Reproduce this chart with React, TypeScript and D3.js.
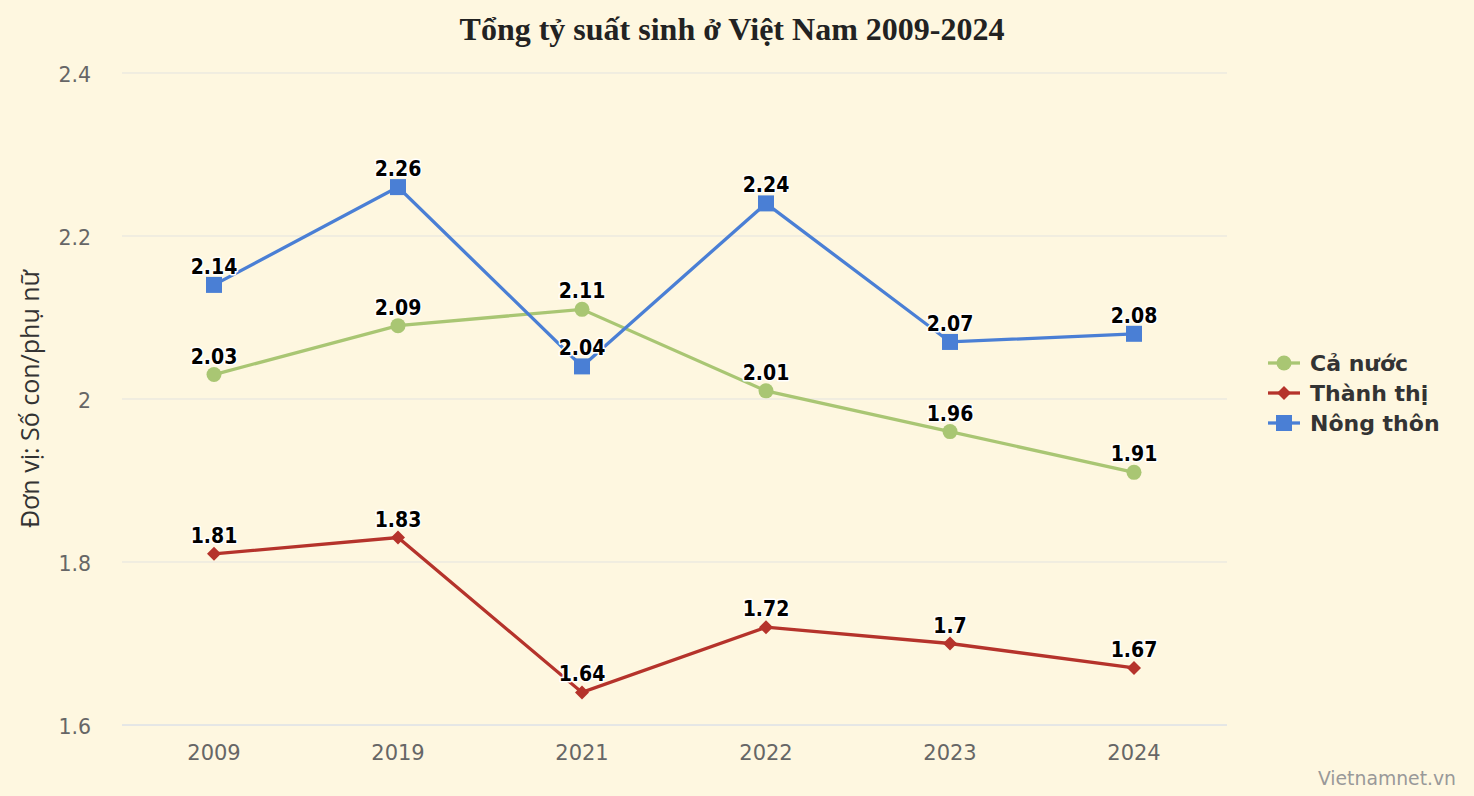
import React from "react";
import * as d3 from "d3";

const categories = ["2009", "2019", "2021", "2022", "2023", "2024"];
const caNuoc = [2.03, 2.09, 2.11, 2.01, 1.96, 1.91];
const thanhThi = [1.81, 1.83, 1.64, 1.72, 1.7, 1.67];
const nongThon = [2.14, 2.26, 2.04, 2.24, 2.07, 2.08];
const yTicks = [1.6, 1.8, 2, 2.2, 2.4];
const seriesNames = ["Cả nước", "Thành thị", "Nông thôn"];

const W = 1474;
const H = 796;
const left = 122;
const right = 1226;
const top = 73;
const bottom = 725;

const colors = ["#a9c673", "#b5332b", "#4a7fd5"];
const font = "'DejaVu Sans', 'Lucida Grande', sans-serif";
const condensed = "'DejaVu Sans Condensed', 'DejaVu Sans', sans-serif";

export default function App() {
  const x = d3.scaleBand<string>().domain(categories).range([left, right]);
  const y = d3.scaleLinear().domain([1.6, 2.4]).range([bottom, top]);
  const cx = (c: string) => (x(c) as number) + x.bandwidth() / 2;
  const line = d3
    .line<number>()
    .x((_, i) => cx(categories[i]))
    .y((d) => y(d));

  const series = [caNuoc, thanhThi, nongThon];

  const marker = (k: number, px: number, py: number, key: string) => {
    if (k === 0) return <circle key={key} cx={px} cy={py} r={7.5} fill={colors[0]} />;
    if (k === 1)
      return (
        <path
          key={key}
          d={`M${px},${py - 7}L${px + 7},${py}L${px},${py + 7}L${px - 7},${py}Z`}
          fill={colors[1]}
        />
      );
    return <rect key={key} x={px - 8} y={py - 8} width={16} height={16} fill={colors[2]} />;
  };

  const fmt = (v: number) => String(v);

  return (
    <svg width={W} height={H} style={{ display: "block", position: "absolute", left: 0, top: 0 }}>
      <rect x={0} y={0} width={W} height={H} fill="#fef7e0" />
      <text
        x={732}
        y={40}
        textAnchor="middle"
        fontFamily="'Liberation Serif', 'Times New Roman', serif"
        fontWeight="bold"
        fontSize={32}
        fill="#222"
      >
        Tổng tỷ suất sinh ở Việt Nam 2009-2024
      </text>

      {yTicks.map((t) => (
        <g key={t}>
          <line
            x1={left}
            x2={right + 1}
            y1={y(t)}
            y2={y(t)}
            stroke={t === 1.6 ? "#ccd6eb" : "#e3e3e0"}
            strokeWidth={1}
          />
          <text
            x={91}
            y={y(t) + 9}
            textAnchor="end"
            fontFamily={font}
            fontSize={20.5}
            fill="#666"
          >
            {fmt(t)}
          </text>
        </g>
      ))}

      {categories.map((c) => (
        <text
          key={c}
          x={cx(c)}
          y={760}
          textAnchor="middle"
          fontFamily={font}
          fontSize={21}
          fill="#666"
        >
          {c}
        </text>
      ))}

      <text
        transform={`translate(39, ${(top + bottom) / 2}) rotate(-90)`}
        textAnchor="middle"
        fontFamily="'Open Sans', 'Noto Sans', sans-serif"
        fontSize={25}
        fill="#333"
      >
        Đơn vị: Số con/phụ nữ
      </text>

      {series.map((s, k) => (
        <g key={k}>
          <path d={line(s) as string} fill="none" stroke={colors[k]} strokeWidth={3.3} />
          {s.map((v, i) => marker(k, cx(categories[i]), y(v), `m${k}-${i}`))}
        </g>
      ))}

      {series.map((s, k) =>
        s.map((v, i) => (
          <text
            key={`l${k}-${i}`}
            x={cx(categories[i])}
            y={y(v) - 11}
            textAnchor="middle"
            fontFamily={condensed}
            fontWeight="bold"
            fontSize={21}
            fill="#000"
            stroke="#fff"
            strokeWidth={3}
            strokeLinejoin="round"
            paintOrder="stroke"
          >
            {fmt(v)}
          </text>
        ))
      )}

      {seriesNames.map((n, k) => {
        const ly = 363 + k * 30;
        return (
          <g key={n}>
            <line x1={1268} x2={1300} y1={ly} y2={ly} stroke={colors[k]} strokeWidth={3.3} />
            {marker(k, 1284, ly, `lg${k}`)}
            <text
              x={1310}
              y={ly + 8}
              fontFamily={font}
              fontWeight="bold"
              fontSize={22}
              fill="#333"
            >
              {n}
            </text>
          </g>
        );
      })}

      <text
        x={1456}
        y={785}
        textAnchor="end"
        fontFamily={font}
        fontSize={18.8}
        fill="#999"
      >
        Vietnamnet.vn
      </text>
    </svg>
  );
}
